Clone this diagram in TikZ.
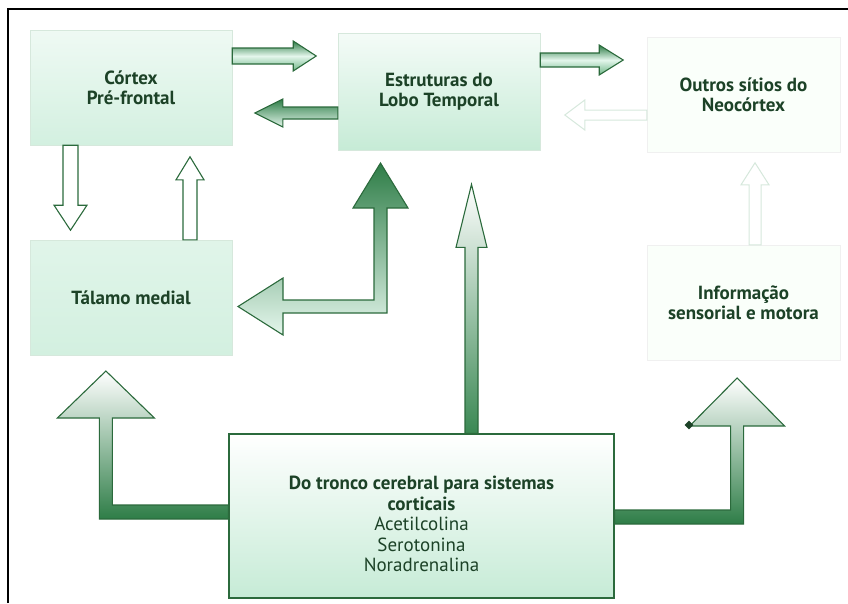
\documentclass[tikz,border=0pt]{standalone}
\usepackage{fontspec}
\setmainfont{PT Sans}
\usetikzlibrary{shapes.geometric}

\definecolor{boxtext}{HTML}{1C4227}
\definecolor{arrline}{HTML}{2B6A3C}
\definecolor{arrdark}{HTML}{2E7D47}
\definecolor{arrmid}{HTML}{6DB585}
\definecolor{arrlight}{HTML}{E4F6EC}
\definecolor{palegreen}{HTML}{D3F0E0}
\definecolor{mintgreen}{HTML}{C6EBD6}
\definecolor{paleline}{HTML}{D6E8DC}

\tikzset{
  box/.style={minimum width=202pt, minimum height=115pt, inner sep=0pt,
    align=center, text=boxtext, font=\bfseries\fontsize{19}{20}\selectfont},
  greenbox/.style={box, draw=paleline, top color=arrlight!60!white, bottom color=palegreen},
  faintbox/.style={box, draw=black!6, fill=green!2!white},
  blockarrow/.style={draw=arrline, line width=1.1pt, line join=miter},
  hollowarrow/.style={blockarrow, fill=white},
  faintarrow/.style={draw=paleline, line width=1pt, fill=white}
}

\begin{document}
\begin{tikzpicture}[x=1pt, y=-1pt]
    \useasboundingbox (0,0) rectangle (848,603);
    \draw[line width=2pt] (8,603) -- (8,9) -- (848,9);

    % boxes
    \node[greenbox] (ctx) at (131,87.5) {Córtex\\Pré-frontal};
    \node[greenbox, minimum height=117pt, top color=arrlight!40!white,
          bottom color=mintgreen] (lobo) at (439,91.5) {Estruturas do\\Lobo Temporal};
    \node[faintbox, minimum width=193pt] (outros) at (743.5,94.5) {Outros sítios do\\Neocórtex};
    \node[greenbox, top color=palegreen!70!white] (tal) at (131,297.5) {Tálamo medial};
    \node[faintbox, minimum width=193pt] (info) at (743.5,302.5) {Informação\\sensorial e motora};
    \node[box, minimum width=385pt, minimum height=164pt, draw=arrline, line width=1.2pt,
          top color=white, bottom color=mintgreen] (tronco) at (421.5,516) {};
    \node[align=center, text=boxtext, font=\fontsize{19}{20.5}\selectfont] (trlabel)
      at ([yshift=-8pt]tronco.center)
      {\textbf{Do tronco cerebral para sistemas}\\\textbf{corticais}\\Acetilcolina\\Serotonina\\Noradrenalina};

    % arrows between the upper boxes
    \draw[blockarrow, top color=arrdark, bottom color=arrmid, middle color=arrlight]
      (ctx.east |- 0,48) -- ++(61,0) -- ++(0,-7) -- ++(23,15) -- ++(-23,15) -- ++(0,-7) -- ++(-61,0) -- cycle;
    \draw[blockarrow, top color=arrdark, bottom color=arrlight]
      (lobo.west |- 0,107) -- ++(-55,0) -- ++(0,-8) -- ++(-28,14) -- ++(28,14) -- ++(0,-8) -- ++(55,0) -- cycle;
    \draw[blockarrow, top color=arrdark, bottom color=arrmid, middle color=arrlight]
      (lobo.east |- 0,53) -- ++(59,0) -- ++(0,-8) -- ++(24,15) -- ++(-24,15) -- ++(0,-8) -- ++(-59,0) -- cycle;
    \draw[faintarrow]
      (outros.west |- 0,110) -- ++(-62,0) -- ++(0,-10) -- ++(-20,15) -- ++(20,15) -- ++(0,-10) -- ++(62,0) -- cycle;

    % cortex <-> thalamus
    \draw[hollowarrow]
      (63,0 |- ctx.south) -- ++(0,60) -- ++(-9,0) -- ++(16.5,25) -- ++(16.5,-25) -- ++(-9,0) -- ++(0,-60) -- cycle;
    \draw[hollowarrow]
      (183,0 |- tal.north) -- ++(0,-60) -- ++(-7,0) -- ++(14,-23) -- ++(14,23) -- ++(-7,0) -- ++(0,60) -- cycle;
    \draw[faintarrow]
      (749,0 |- info.north) -- ++(0,-60) -- ++(-8,0) -- ++(14,-22) -- ++(14,22) -- ++(-8,0) -- ++(0,60) -- cycle;

    % temporal lobe <-> thalamus
    \coordinate (lobotip) at (380.5,163);
    \draw[blockarrow, top color=arrdark, bottom color=arrlight]
      (lobotip) -- ++(27.5,45) -- ++(-21,0) -- ++(0,105) -- ++(-104,0) -- ++(0,22) -- ++(-45,-28.5)
      -- ++(45,-28.5) -- ++(0,22) -- ++(91,0) -- ++(0,-92) -- ++(-21,0) -- cycle;

    % from the brain stem
    \draw[blockarrow, top color=white, bottom color=arrdark!80!arrmid]
      (465,0 |- tronco.north) -- ++(0,-186) -- ++(-9,0) -- ++(15.5,-63) -- ++(15.5,63) -- ++(-9,0) -- ++(0,186) -- cycle;
    \draw[blockarrow, top color=white, bottom color=arrdark]
      (tronco.west |- 0,505) -- ++(-116,0) -- ++(0,-87) -- ++(42,0) -- ++(-48.5,-47) -- ++(-48.5,47)
      -- ++(42,0) -- ++(0,101) -- ++(129,0) -- cycle;
    \draw[blockarrow, top color=white, bottom color=arrdark]
      (tronco.east |- 0,510) -- ++(116,0) -- ++(0,-84) -- ++(-41,0) -- ++(47.5,-48) -- ++(47.5,48)
      -- ++(-41,0) -- ++(0,98) -- ++(-129,0) -- cycle;
    \node[diamond, fill=boxtext, inner sep=0pt, minimum size=9pt] (knot) at (689,425) {};
\end{tikzpicture}
\end{document}
